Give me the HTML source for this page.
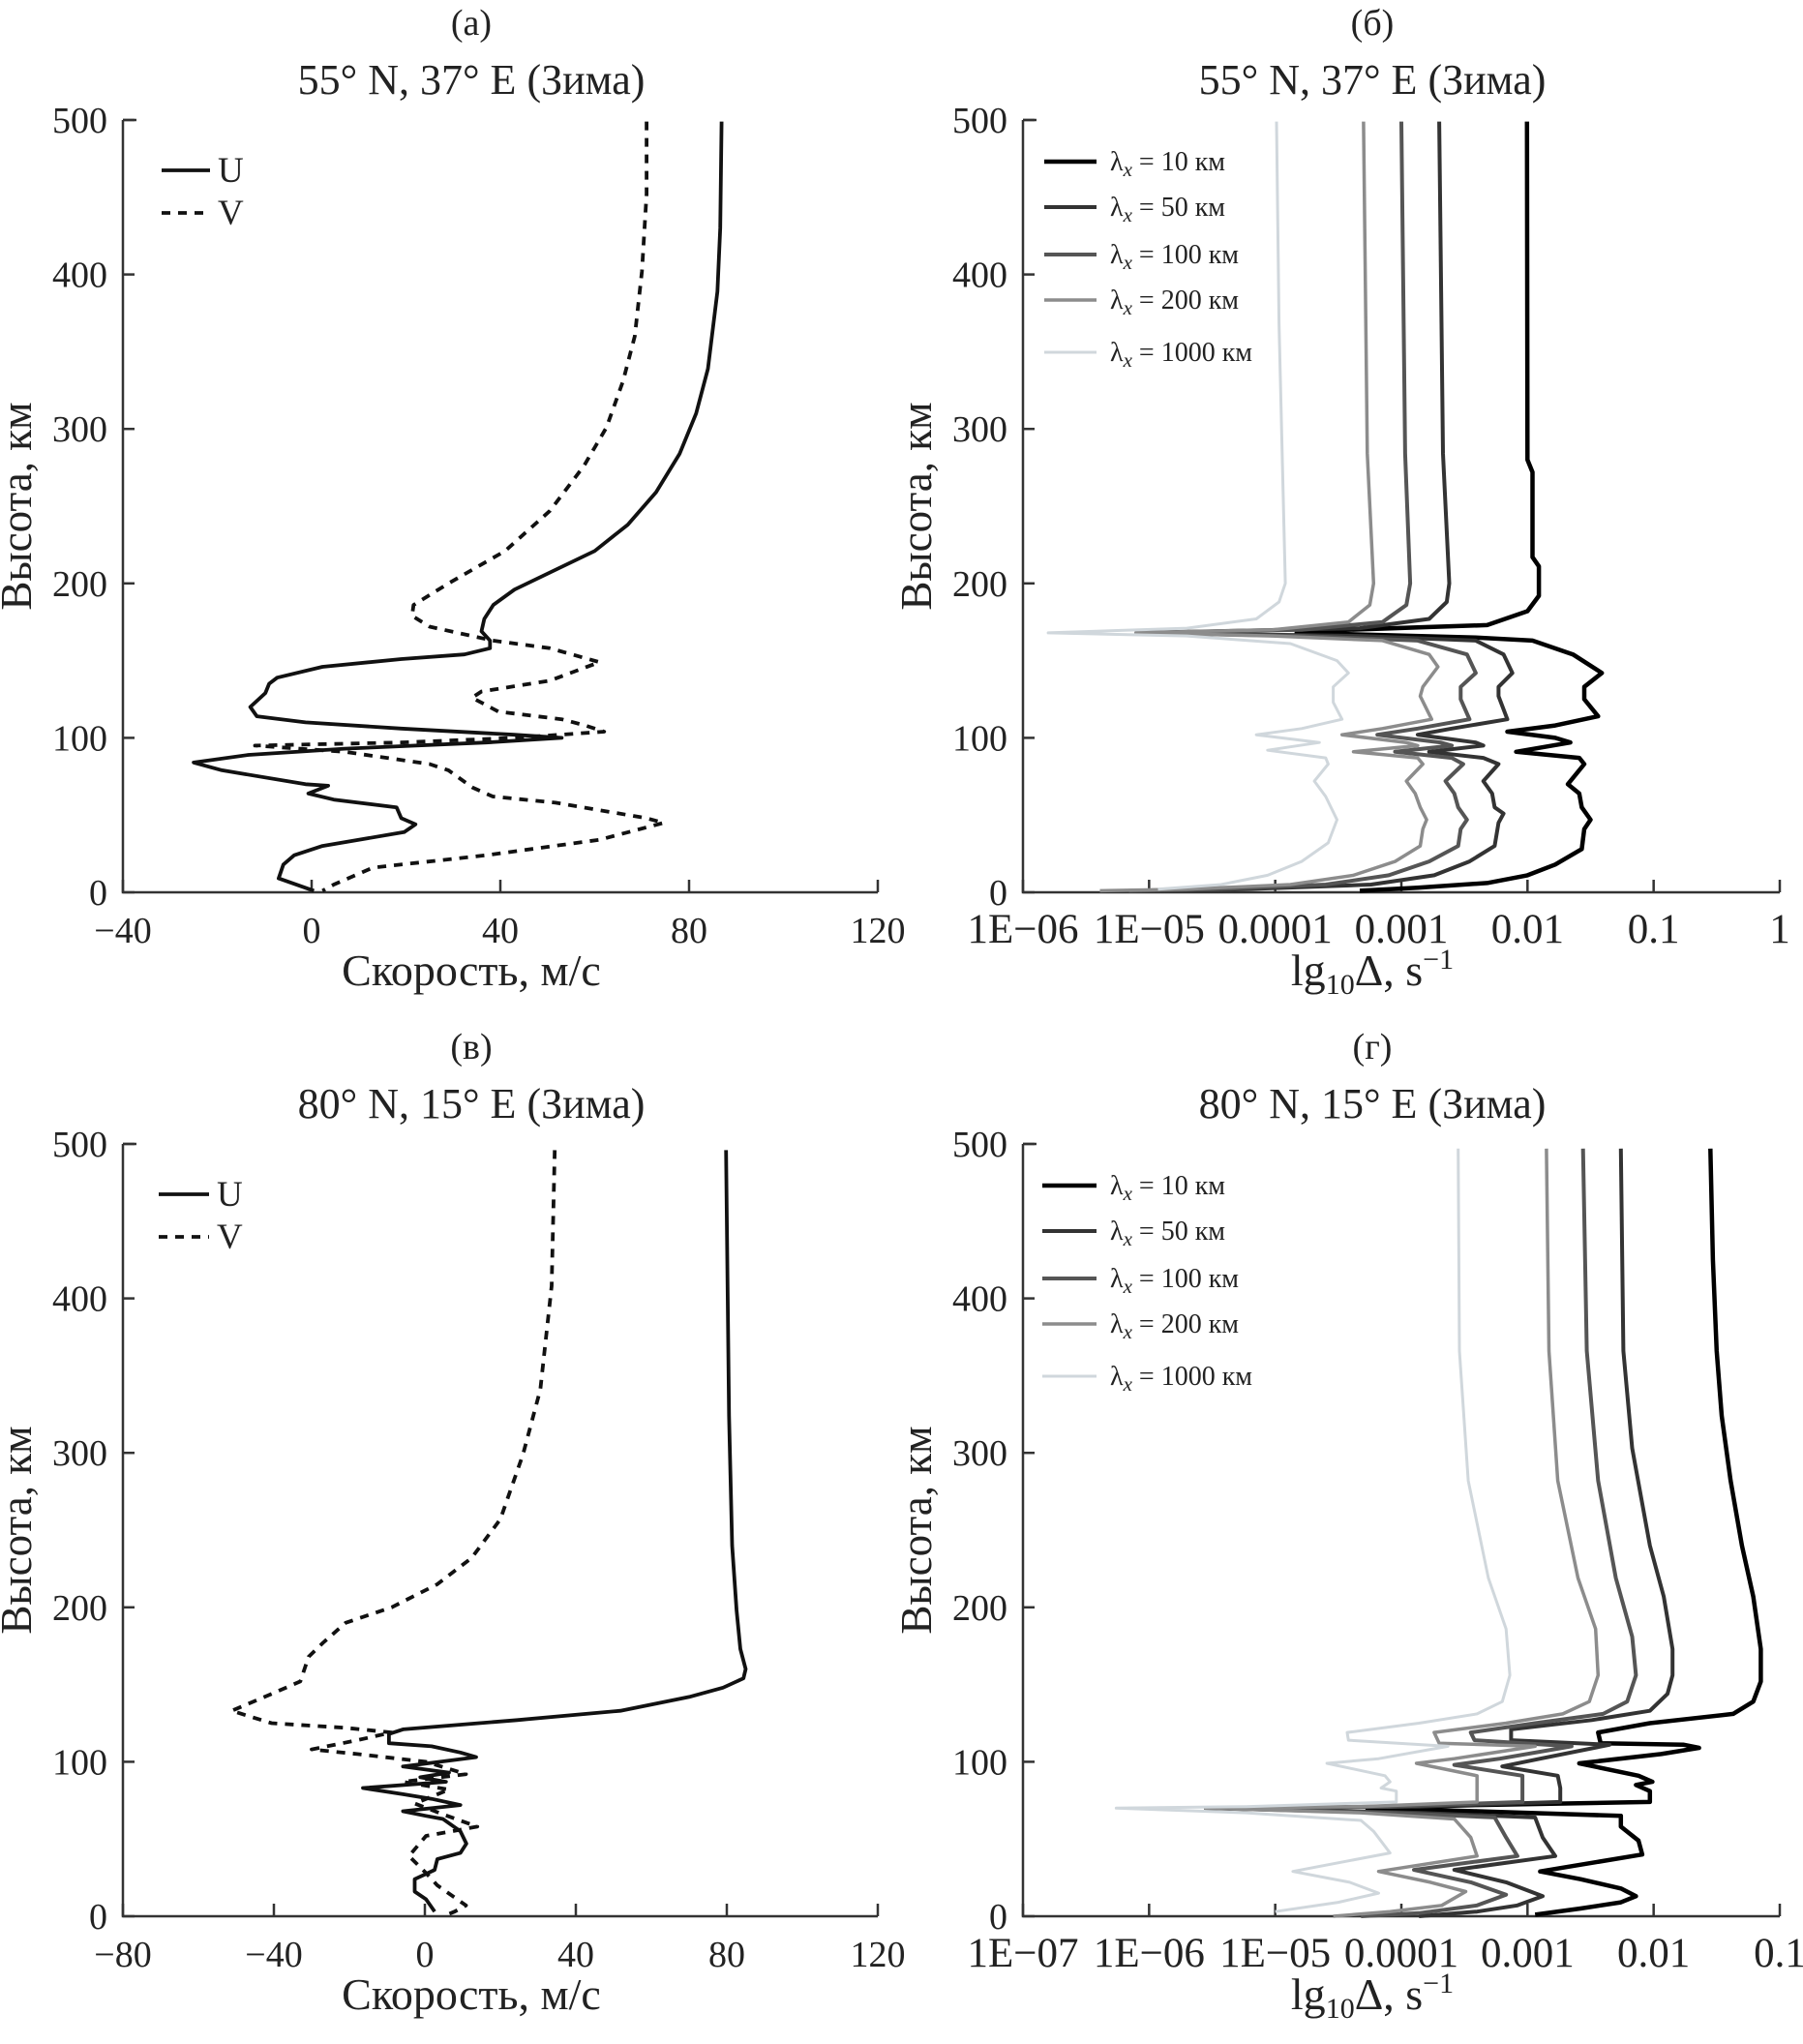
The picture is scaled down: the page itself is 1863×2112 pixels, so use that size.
<!DOCTYPE html>
<html><head><meta charset="utf-8">
<style>
html,body{margin:0;padding:0;background:#fff;}
svg{display:block;font-family:"Liberation Serif",serif;}
</style></head>
<body>
<svg id="fig" width="1863" height="2112" viewBox="0 0 1863 2112" xmlns="http://www.w3.org/2000/svg"></svg>
<script>
// ---- Data (value, height km) ----
const aU = [[86.9,499],[86.6,430],[86,389],[84,339],[81.5,310],[78,284],[73,259],[67,238],[60,221],[50.5,207],[43,196],[38.5,186],[36.6,177],[36,169],[37.8,163],[37.8,158],[32.4,154],[19,151],[2.3,146],[-7.3,139],[-9,135],[-9.8,129],[-13,120],[-11.6,114],[-1.3,110],[19,106],[43,102],[53,100],[37,97],[7,93],[-13.4,89],[-25,84],[-19,79],[-1.3,70],[3.5,69],[-0.7,64],[4.7,60],[18,55],[19,48],[22,44],[19.6,39],[2.3,30],[-3.7,24],[-6,18],[-7,9],[0.5,1]];
const aV = [[71,499],[71,452],[70,402],[68.5,360],[66,331],[62.5,301],[57.7,276],[50.5,247],[41,221],[29,200],[21.6,186],[21.3,179],[25,172],[38.4,163],[50.5,158],[61,149],[50.5,137],[36,130],[34,126],[39.6,117],[53,112],[58,108],[62,104],[43,100],[19,97],[-12,95],[7,91],[25,83],[29,79],[34,68],[38.4,62],[51.7,58],[71,48],[74.6,45],[61,34],[37,24],[13,16],[4.7,5],[2.3,1]];
const vU = [[79.8,496],[80.6,324],[81.4,240],[82.6,198],[83.6,173],[85,160],[84.4,154],[79,148],[70,142],[51.8,133],[24.5,127],[-5.8,121],[-9.5,118],[-9.5,112],[1.8,110],[9.4,106],[13.6,103],[-5.8,97],[6.4,93],[-1.2,90],[5.6,87],[-16.4,83],[-5.8,79],[1.8,76],[9.4,72],[-5.8,68],[0.3,65],[4.8,63],[9.4,55],[11,47],[9.4,41],[3.3,37],[2.6,30],[-2.7,24],[-2.7,16],[0.3,11],[2.6,3]];
const vV = [[34.4,496],[33.6,408],[30.6,341],[26,299],[20,257],[12.4,232],[3.3,215],[-8.8,200],[-21,190],[-27,177],[-30.8,168],[-33,152],[-40.6,144],[-51.2,133],[-40.6,125],[-21,122],[-8.8,119],[-17.9,114],[-30,108],[-17.9,105],[0.3,100],[10.9,92],[-5.8,87],[6.4,82],[-2.7,73],[4.8,66],[13.9,58],[0.3,52],[-4.2,39],[0.3,28],[3.3,20],[10.9,7],[7.9,3],[4.8,0]];
const b10 = [[-2.004,499],[-2.0,280],[-1.96,272],[-1.96,217],[-1.91,211],[-1.91,192],[-2.0,182],[-2.32,173],[-3.79,169],[-3.83,168],[-2.41,165],[-1.96,163],[-1.64,154],[-1.41,142],[-1.55,133],[-1.55,125],[-1.44,114],[-1.78,108],[-2.16,104],[-1.78,100],[-1.66,97],[-2.09,91],[-1.59,87],[-1.55,83],[-1.68,70],[-1.59,64],[-1.57,55],[-1.5,47],[-1.55,41],[-1.57,28],[-1.78,18],[-2.0,11],[-2.32,6],[-2.87,3],[-3.33,1]];
const b50 = [[-2.70,499],[-2.67,284],[-2.62,200],[-2.64,188],[-2.78,177],[-3.33,171],[-5.10,168],[-3.33,166],[-2.41,163],[-2.19,154],[-2.12,142],[-2.23,133],[-2.23,127],[-2.16,112],[-2.6,106],[-2.87,102],[-2.41,97],[-2.35,95],[-2.78,91],[-2.35,87],[-2.23,83],[-2.35,72],[-2.28,64],[-2.26,55],[-2.19,51],[-2.23,45],[-2.26,30],[-2.46,20],[-2.74,11],[-3.24,5],[-4.24,2],[-4.93,1]];
const b100 = [[-3.0,499],[-2.97,284],[-2.93,200],[-2.96,186],[-3.15,175],[-3.79,170],[-5.10,168],[-3.79,166],[-2.87,163],[-2.48,154],[-2.41,142],[-2.53,133],[-2.53,125],[-2.46,112],[-2.87,106],[-3.19,102],[-2.69,97],[-2.6,95],[-3.05,91],[-2.6,87],[-2.51,83],[-2.65,72],[-2.58,64],[-2.55,55],[-2.48,47],[-2.53,41],[-2.55,30],[-2.78,20],[-3.1,11],[-3.6,5],[-4.47,2],[-5.16,1]];
const b200 = [[-3.30,499],[-3.27,284],[-3.22,200],[-3.25,186],[-3.42,175],[-4.02,170],[-5.10,168],[-4.02,166],[-3.15,163],[-2.78,154],[-2.71,146],[-2.83,133],[-2.85,127],[-2.76,112],[-3.15,106],[-3.47,102],[-2.96,97],[-2.87,95],[-3.38,91],[-2.87,87],[-2.83,83],[-2.96,72],[-2.89,64],[-2.85,55],[-2.8,47],[-2.83,41],[-2.85,30],[-3.05,20],[-3.38,11],[-3.88,5],[-4.7,2],[-5.39,1]];
const b1000 = [[-3.99,499],[-3.97,368],[-3.92,200],[-3.97,188],[-4.15,177],[-4.70,171],[-5.80,168],[-4.70,166],[-3.88,161],[-3.51,150],[-3.42,142],[-3.54,133],[-3.54,123],[-3.47,112],[-3.79,106],[-4.15,102],[-3.65,97],[-4.06,92],[-3.6,87],[-3.58,83],[-3.69,72],[-3.6,62],[-3.51,47],[-3.58,32],[-3.79,20],[-4.06,11],[-4.43,5],[-4.93,2]];
const g10 = [[-1.55,497],[-1.53,425],[-1.50,366],[-1.46,324],[-1.39,282],[-1.30,240],[-1.21,207],[-1.15,173],[-1.15,152],[-1.21,139],[-1.37,131],[-2.03,125],[-2.44,119],[-2.42,112],[-1.76,111],[-1.64,109],[-1.94,105],[-2.59,99],[-2.12,91],[-2.01,87],[-2.14,85],[-2.03,81],[-2.03,74],[-3.40,72],[-4.27,70],[-3.40,68],[-2.26,65],[-2.26,58],[-2.12,49],[-2.09,40],[-2.9,29],[-2.58,24],[-2.26,18],[-2.14,13],[-2.26,9],[-2.58,5],[-2.94,1]];
const g50 = [[-2.26,497],[-2.24,366],[-2.17,303],[-2.03,240],[-1.92,207],[-1.85,173],[-1.85,156],[-1.89,144],[-2.03,133],[-2.49,127],[-3.13,121],[-3.13,114],[-2.35,111],[-2.9,102],[-3.2,97],[-2.76,91],[-2.74,83],[-2.74,74],[-3.86,71],[-5.55,70],[-3.86,67],[-2.94,64],[-2.88,51],[-2.78,39],[-3.58,30],[-3.17,22],[-2.88,13],[-3.08,7],[-3.40,3],[-3.86,0]];
const g100 = [[-2.56,497],[-2.53,366],[-2.44,282],[-2.30,219],[-2.17,181],[-2.14,156],[-2.21,139],[-2.40,131],[-2.94,125],[-3.45,119],[-3.42,114],[-2.65,110],[-3.22,102],[-3.58,98],[-3.04,91],[-3.04,74],[-4.09,71],[-5.55,70],[-4.09,67],[-3.26,64],[-3.17,51],[-3.08,39],[-3.9,30],[-3.45,22],[-3.17,14],[-3.40,7],[-3.86,2],[-4.32,0]];
const g200 = [[-2.85,497],[-2.83,366],[-2.76,282],[-2.60,219],[-2.46,186],[-2.44,156],[-2.51,139],[-2.72,131],[-3.17,125],[-3.74,119],[-3.70,112],[-2.94,110],[-3.58,102],[-3.88,99],[-3.40,91],[-3.40,74],[-4.32,71],[-5.55,70],[-4.32,67],[-3.58,63],[-3.45,51],[-3.40,39],[-4.18,29],[-3.77,22],[-3.49,16],[-3.68,7],[-4.09,3],[-4.54,0]];
const g1000 = [[-3.55,497],[-3.54,366],[-3.47,282],[-3.31,219],[-3.17,186],[-3.14,156],[-3.20,139],[-3.40,131],[-3.86,125],[-4.43,119],[-4.42,114],[-3.63,110],[-4.18,102],[-4.59,99],[-4.13,91],[-4.09,87],[-4.16,83],[-4.04,81],[-4.04,74],[-5.23,71],[-6.26,70],[-5.23,67],[-4.32,62],[-4.22,55],[-4.09,41],[-4.86,29],[-4.41,22],[-4.18,15],[-4.5,9],[-5.0,3]];
const yTicks = [0,100,200,300,400,500];
const aTicks = [-40,0,40,80,120];
const vTicks = [-80,-40,0,40,80,120];
const bTickLabels = ["1E\u221206","1E\u221205","0.0001","0.001","0.01","0.1","1"];
const gTickLabels = ["1E\u221207","1E\u221206","1E\u221205","0.0001","0.001","0.01","0.1"];
const lamLabels = ["10","50","100","200","1000"];

const NS="http://www.w3.org/2000/svg";
const svg=document.getElementById('fig');
function mk(tag,attrs,parent){const e=document.createElementNS(NS,tag);for(const k in attrs)e.setAttribute(k,attrs[k]);(parent||svg).appendChild(e);return e;}

function panel(o){
  const g=mk('g',{});
  
  
  const sx=v=>o.x0+(v-o.xmin)/(o.xmax-o.xmin)*(o.x1-o.x0);
  const sy=h=>o.y1-h/500*(o.y1-o.y0);
  const ax=mk('path',{d:`M${o.x0},${o.y0} H${o.x0+14} M${o.x0},${o.y0} V${o.y1} H${o.x1}`,fill:'none',stroke:'#333','stroke-width':2.5},g);
  
  
  yTicks.forEach(t=>{
    const y=sy(t);
    mk('line',{x1:o.x0,x2:o.x0+12,y1:y,y2:y,stroke:'#333','stroke-width':2.5},g);
    const tx=mk('text',{x:o.x0-16,y:y+13,'text-anchor':'end','font-size':38,fill:'#222'},g);
    tx.textContent=t;
    
    
  });
  o.xt.forEach((t,i)=>{
    const v=o.log?(o.xmin+i):t;
    const x=sx(v);
    mk('line',{x1:x,x2:x,y1:o.y1,y2:o.y1-13,stroke:'#333','stroke-width':2.5},g);
    const tx=mk('text',{x:x,y:o.y1+52,'text-anchor':'middle','font-size':o.log?43:38,fill:'#222'},g);
    tx.textContent=o.log?t:(t<0?'\u2212'+(-t):t);
    
    
  });
  const cx=(o.x0+o.x1)/2-30;
  let t=mk('text',{x:cx,y:o.y0-88,'text-anchor':'middle','font-size':38,fill:'#222'},g);
  t.textContent=o.letter;
  
  
  t=mk('text',{x:cx,y:o.y0-27,'text-anchor':'middle','font-size':44,fill:'#222'},g);
  t.textContent=o.title;
  
  
  t=mk('text',{x:o.x0-95,y:(o.y0+o.y1)/2,'text-anchor':'middle','font-size':45,fill:'#222',transform:`rotate(-90 ${o.x0-95} ${(o.y0+o.y1)/2})`},g);
  t.textContent='Высота, км';
  
  
  t=mk('text',{x:cx,y:o.y1+96,'text-anchor':'middle','font-size':46,fill:'#222'},g);
  if(o.log){t.innerHTML='lg<tspan font-size="30" dy="9">10</tspan><tspan dy="-9">Δ, s</tspan><tspan font-size="30" dy="-17">−1</tspan>';}
  else t.textContent='Скорость, м/с';
  
  
  o.series.forEach((s,i)=>{
    const d=s.data.map((p,j)=>(j?'L':'M')+sx(p[0]).toFixed(1)+','+sy(p[1]).toFixed(1)).join(' ');
    const pth=mk('path',{d:d,fill:'none',stroke:s.color,'stroke-width':s.w,'stroke-linejoin':'round','stroke-dasharray':s.dash||'none'},g);
    
    
    const ly=o.y0+s.ly;
    const ll=mk('line',{x1:o.x0+o.lx,x2:o.x0+o.lx+o.llen,y1:ly,y2:ly,stroke:s.color,'stroke-width':s.w,'stroke-dasharray':s.dash||'none'},g);
    
    
    const lt=mk('text',{x:o.x0+o.lx+o.llen+(o.log?14:8),y:ly+(o.log?9:12),'font-size':o.log?28:37,fill:'#222'},g);
    if(o.log) lt.innerHTML='λ<tspan font-style="italic" font-size="21" dy="6">x</tspan><tspan dy="-6"> = '+s.lab+' км</tspan>';
    else lt.textContent=s.lab;
    
    
  });
}
const greys=['#000','#333','#555','#8c8c8c','#d0d7dc'];
const widths=[4.5,4,4,3.5,3];
const legY=[43,90,139,186,240];
function logSeries(arrs){return arrs.map((a,i)=>({data:a,color:greys[i],w:widths[i],lab:lamLabels[i],ly:legY[i],name:'line-lambda-'+lamLabels[i]}));}

panel({name:'panel-a',letter:'(а)',title:'55° N, 37° E (Зима)',x0:127,x1:907,y0:124,y1:922,xmin:-40,xmax:120,xt:aTicks,lx:40,llen:50,
  series:[{data:aU,color:'#111',w:3.8,lab:'U',ly:52,name:'line-u'},{data:aV,color:'#111',w:3.8,dash:'9,8',lab:'V',ly:96,name:'line-v'}]});
panel({name:'panel-b',letter:'(б)',title:'55° N, 37° E (Зима)',log:true,x0:1057,x1:1839,y0:124,y1:922,xmin:-6,xmax:0,xt:bTickLabels,lx:22,llen:54,
  series:logSeries([b10,b50,b100,b200,b1000])});
panel({name:'panel-v',letter:'(в)',title:'80° N, 15° E (Зима)',x0:127,x1:907,y0:1182,y1:1980,xmin:-80,xmax:120,xt:vTicks,lx:37,llen:52,
  series:[{data:vU,color:'#111',w:3.8,lab:'U',ly:52,name:'line-u'},{data:vV,color:'#111',w:3.8,dash:'9,8',lab:'V',ly:96,name:'line-v'}]});
panel({name:'panel-g',letter:'(г)',title:'80° N, 15° E (Зима)',log:true,x0:1057,x1:1839,y0:1182,y1:1980,xmin:-7,xmax:-1,xt:gTickLabels,lx:20,llen:56,
  series:logSeries([g10,g50,g100,g200,g1000])});
</script>
</body></html>
